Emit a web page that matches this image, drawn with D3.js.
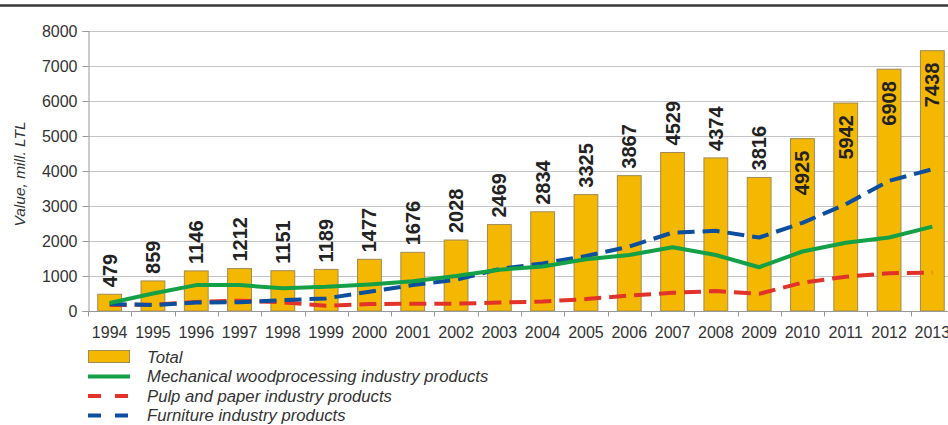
<!DOCTYPE html>
<html><head><meta charset="utf-8">
<script src="https://cdn.jsdelivr.net/npm/d3@7"></script>
<style>
html,body{margin:0;padding:0;background:#fff;}
svg{display:block;font-family:"Liberation Sans",Arial,sans-serif;}
</style></head>
<body>
<svg id="chart" width="948" height="425"></svg>
<script>
const years = ["1994","1995","1996","1997","1998","1999","2000","2001","2002","2003","2004","2005","2006","2007","2008","2009","2010","2011","2012","2013"];
const total = [479,859,1146,1212,1151,1189,1477,1676,2028,2469,2834,3325,3867,4529,4374,3816,4925,5942,6908,7438];
const mechanical = [230,500,740,740,650,690,760,850,1000,1180,1270,1480,1600,1820,1600,1250,1700,1950,2100,2410];
const pulp = [170,180,260,295,250,150,200,210,210,240,270,340,440,520,570,490,810,980,1080,1100];
const furniture = [200,170,240,250,310,360,550,740,890,1200,1360,1570,1840,2240,2290,2100,2520,3050,3720,4050];
const yTicks = [0,1000,2000,3000,4000,5000,6000,7000,8000];
const legendLabels = ["Total","Mechanical woodprocessing industry products","Pulp and paper industry products","Furniture industry products"];

(function(){
const svg = d3.select("#chart");
const pL = 88, pR = 954, pT = 31, pB = 311;
const x = d3.scaleBand().domain(years).range([pL, pR]).paddingInner(0.45).paddingOuter(0.225);
const y = d3.scaleLinear().domain([0, 8000]).range([pB, pT]);
const gold = "#F5B800", barStroke = "#a08a55";
const cGreen = "#14a046", cRed = "#e2332a", cBlue = "#0b4f9e";

// top border
svg.append("line").attr("x1",0).attr("x2",948).attr("y1",5.5).attr("y2",5.5).attr("stroke","#3a3a3a").attr("stroke-width",2.5);

// grid
svg.append("g").selectAll("line").data(yTicks.filter(d=>d>0)).join("line")
  .attr("x1",pL).attr("x2",948).attr("y1",d=>Math.round(y(d))+0.5).attr("y2",d=>Math.round(y(d))+0.5)
  .attr("stroke","#c4c4c4").attr("stroke-width",1);

// y axis
const yAxis = svg.append("g").attr("transform",`translate(${pL+0.5},0)`)
  .call(d3.axisLeft(y).tickValues(yTicks).tickSize(6).tickPadding(5).tickFormat(d3.format("d")));
yAxis.select(".domain").attr("stroke","#999");
yAxis.selectAll(".tick line").attr("stroke","#999");
yAxis.selectAll("text").attr("font-size",16).attr("fill","#333").attr("font-family","Liberation Sans, Arial, sans-serif");

// y title
svg.append("text").attr("transform","translate(25,174) rotate(-90)").attr("text-anchor","middle")
  .attr("font-size",15.5).attr("font-style","italic").attr("fill","#333").text("Value, mill. LTL");

// bars
svg.append("g").selectAll("rect").data(years).join("rect")
  .attr("x",d=>x(d)).attr("width",x.bandwidth())
  .attr("y",(d,i)=>y(total[i])).attr("height",(d,i)=>y(0)-y(total[i]))
  .attr("fill",gold).attr("stroke",barStroke).attr("stroke-width",1);

// x axis
const xAxisG = svg.append("g").attr("transform",`translate(0,${pB+0.5})`);
xAxisG.append("line").attr("x1",pL).attr("x2",948).attr("stroke","#999");
const step = x.step();
const boundaries = d3.range(0, years.length+1).map(i=>pL + i*step);
xAxisG.selectAll("line.t").data(boundaries).join("line").attr("class","t")
  .attr("x1",d=>Math.round(d)+0.5).attr("x2",d=>Math.round(d)+0.5).attr("y1",0).attr("y2",5).attr("stroke","#999");
xAxisG.selectAll("text").data(years).join("text")
  .attr("x",d=>x(d)+x.bandwidth()/2).attr("y",26).attr("text-anchor","middle")
  .attr("font-size",16).attr("fill","#333").text(d=>d);

// lines
const cx = (d,i)=>x(years[i])+x.bandwidth()/2;
const lineGen = d3.line().x((d,i)=>cx(d,i)).y(d=>y(d)).curve(d3.curveLinear);
svg.append("path").attr("d",lineGen(pulp)).attr("fill","none").attr("stroke",cRed).attr("stroke-width",4).attr("stroke-dasharray","17,8").attr("stroke-linejoin","round");
svg.append("path").attr("d",lineGen(furniture)).attr("fill","none").attr("stroke",cBlue).attr("stroke-width",4).attr("stroke-dasharray","17,8").attr("stroke-linejoin","round");
svg.append("path").attr("d",lineGen(mechanical)).attr("fill","none").attr("stroke",cGreen).attr("stroke-width",4).attr("stroke-linejoin","round");

// value labels
svg.append("g").selectAll("text").data(years).join("text")
  .attr("transform",(d,i)=>{
    const inside = total[i] > 4800;
    const yy = inside ? y(total[i]) + 12 : y(total[i]) - 7;
    return `translate(${x(d)+x.bandwidth()/2},${yy}) rotate(-90)`;
  })
  .attr("text-anchor",(d,i)=> total[i] > 4800 ? "end" : "start")
  .attr("dominant-baseline","central")
  .attr("font-size",20).attr("font-weight","bold").attr("fill","#222")
  .text((d,i)=>total[i]);

// legend
const lg = svg.append("g");
const rows = [357,376.5,396,415.5];
lg.append("rect").attr("x",88.5).attr("y",350.5).attr("width",41).attr("height",12).attr("fill",gold).attr("stroke",barStroke);
lg.append("line").attr("x1",88).attr("x2",130).attr("y1",rows[1]).attr("y2",rows[1]).attr("stroke",cGreen).attr("stroke-width",4);
lg.append("line").attr("x1",88).attr("x2",130).attr("y1",rows[2]).attr("y2",rows[2]).attr("stroke",cRed).attr("stroke-width",4).attr("stroke-dasharray","13,14");
lg.append("line").attr("x1",88).attr("x2",130).attr("y1",rows[3]).attr("y2",rows[3]).attr("stroke",cBlue).attr("stroke-width",4).attr("stroke-dasharray","13,14");
lg.selectAll("text").data(legendLabels).join("text")
  .attr("x",147).attr("y",(d,i)=>rows[i]).attr("dominant-baseline","central")
  .attr("font-size",16.7).attr("font-style","italic").attr("fill","#333").text(d=>d);
})();
</script>
</body></html>
